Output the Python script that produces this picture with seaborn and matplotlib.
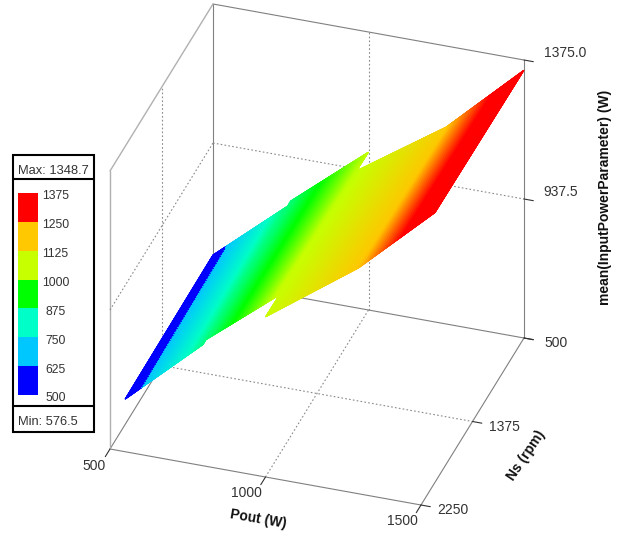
import numpy as np
import matplotlib
matplotlib.use('Agg')
import matplotlib.pyplot as plt
from matplotlib.colors import LinearSegmentedColormap, ListedColormap, Normalize
from matplotlib.patches import Rectangle
import seaborn as sns

# axis ranges and ticks
pout_ticks = [500, 1000, 1500]
ns_ticks = [2250, 1375, 500]
z_ticks = [500, 937.5, 1375]
z_tick_labels = ['500', '937.5', '1375.0']

# surface patches, values
pout_left = [500, 750, 1000, 1250]
pout_right = [750, 1000, 1250, 1500]
ns_near_left = [1995, 1940, 2250, 1995]
ns_near_right = [1991, 2057, 1995, 2012]
ns_far_left = [500, 500, 678, 500]
ns_far_right = [570, 500, 500, 500]
z_near_left = [580, 795, 1004, 1125]
z_near_right = [795, 1010, 1125, 1349]
z_far_left = [585, 799, 994, 1120]
z_far_right = [802, 997, 1120, 1343]

# legend
levels = [500, 625, 750, 875, 1000, 1125, 1250, 1375]
band_colors = ['#0000ff', '#00c8ff', '#00ffc8', '#00ff00', '#c8ff00', '#ffc800', '#ff0000']
z_max = 1348.7
z_min = 576.5

sns.set_theme(style='white')
plt.rcParams['font.family'] = ['Liberation Sans', 'DejaVu Sans']
text_color = '#333333'


def project(pout, ns, z):
    # parallel projection of the data box to picture pixels
    a = (np.asarray(pout, dtype=float) - 500) / 1000
    b = (2250 - np.asarray(ns, dtype=float)) / 1750
    c = (np.asarray(z, dtype=float) - 500) / 875
    return 110 + 311 * a + 103 * b, 449 + 56 * a - 167 * b - 278 * c


def line3d(start, end, **kw):
    x, y = project(*zip(start, end))
    ax.plot(x, y, **kw)


fig = plt.figure(figsize=(6.24, 5.34), dpi=100)
ax = fig.add_axes([0, 0, 1, 1])
ax.set_xlim(0, 624)
ax.set_ylim(534, 0)
ax.axis('off')

solid = dict(color='#808080', lw=0.8, zorder=1)
light = dict(color='#b0b0b0', lw=1.0, zorder=1)
dashed = dict(color='#8a8a8a', lw=0.8, ls=(0, (1.5, 2)), zorder=1)

# floor and back walls
line3d((500, 2250, 500), (1500, 2250, 500), **solid)
line3d((1500, 2250, 500), (1500, 500, 500), **solid)
line3d((500, 500, 500), (1500, 500, 500), **solid)
line3d((500, 2250, 500), (500, 500, 500), **solid)
line3d((500, 500, 500), (500, 500, 1375), **solid)
line3d((1500, 500, 500), (1500, 500, 1375), **solid)
line3d((500, 500, 1375), (1500, 500, 1375), **solid)
line3d((500, 2250, 500), (500, 2250, 1375), **light)
line3d((500, 2250, 1375), (500, 500, 1375), **light)

# middle grid lines
line3d((1000, 2250, 500), (1000, 500, 500), **dashed)
line3d((500, 1375, 500), (1500, 1375, 500), **dashed)
line3d((1000, 500, 500), (1000, 500, 1375), **dashed)
line3d((500, 500, 937.5), (1500, 500, 937.5), **dashed)
line3d((500, 1375, 500), (500, 1375, 1375), **dashed)
line3d((500, 2250, 937.5), (500, 500, 937.5), **dashed)

# ticks
for p in pout_ticks:
    line3d((p, 2250, 500), (p, 2330, 500), color='#333333', lw=0.8, zorder=1)
for n in ns_ticks:
    line3d((1500, n, 500), (1530, n, 500), color='#333333', lw=0.8, zorder=1)
for z in z_ticks:
    line3d((1500, 500, z), (1530, 500, z), color='#333333', lw=0.8, zorder=1)

# surface
nodes = [(0, band_colors[0]), (125 / 875, band_colors[0])]
for lev, col in zip(levels[1:-1], band_colors[1:]):
    nodes.append(((lev - 500) / 875, col))
nodes.append((1, band_colors[-1]))
surf_cmap = LinearSegmentedColormap.from_list('surf', nodes, N=2048)
norm = Normalize(500, 1375)

s, t = np.meshgrid(np.linspace(0, 1, 300), np.linspace(0, 1, 60))
for i in range(len(pout_left)):
    pout = pout_left[i] + (pout_right[i] - pout_left[i]) * s
    ns_near = ns_near_left[i] + (ns_near_right[i] - ns_near_left[i]) * s
    ns_far = ns_far_left[i] + (ns_far_right[i] - ns_far_left[i]) * s
    z_near = z_near_left[i] + (z_near_right[i] - z_near_left[i]) * s
    z_far = z_far_left[i] + (z_far_right[i] - z_far_left[i]) * s
    ns = ns_near + (ns_far - ns_near) * t
    z = z_near + (z_far - z_near) * t
    X, Y = project(pout, ns, z)
    ax.pcolormesh(X, Y, z, cmap=surf_cmap, norm=norm, shading='gouraud', zorder=2 + i)

# tick labels and axis titles
for lab, x, y in zip(['500', '1000', '1500'], [94, 246, 402], [466, 493, 521]):
    ax.text(x, y, lab, ha='center', va='center', fontsize=10, color=text_color)
for lab, x, y in zip(['2250', '1375', '500'], [453, 504, 556], [510, 427, 343]):
    ax.text(x, y, lab, ha='center', va='center', fontsize=10, color=text_color)
for lab, x, y in zip(z_tick_labels, [556, 561, 565], [343, 192, 53]):
    if lab != '500':
        ax.text(x, y, lab, ha='center', va='center', fontsize=10, color=text_color)
ax.text(258, 519, 'Pout (W)', ha='center', va='center', fontsize=10, fontweight='bold',
        rotation=-10, rotation_mode='anchor', color='#111111')
ax.text(526, 455, 'Ns (rpm)', ha='center', va='center', fontsize=10, fontweight='bold',
        rotation=56, rotation_mode='anchor', color='#111111')
ax.text(605, 197, 'mean(InputPowerParameter) (W)', ha='center', va='center', fontsize=10,
        fontweight='bold', rotation=90, color='#111111')

# legend frames
ax.add_patch(Rectangle((13, 155), 81, 277, fc='white', ec='black', lw=1.5, zorder=10))
ax.plot([13, 94], [179, 179], color='black', lw=1.5, zorder=11)
ax.plot([13, 94], [406, 406], color='black', lw=1.5, zorder=11)
ax.text(18, 171, f'Max: {z_max}', va='center', fontsize=9.3, color=text_color, zorder=11)
ax.text(18, 422, f'Min: {z_min}', va='center', fontsize=9.3, color=text_color, zorder=11)

# color bar of the legend
cax = fig.add_axes([18 / 624, 1 - 395 / 534, 20 / 624, 202 / 534], zorder=5)
bands = np.arange(len(band_colors))[::-1].reshape(-1, 1)
sns.heatmap(bands, ax=cax, cmap=ListedColormap(band_colors), cbar=False,
            xticklabels=False, yticklabels=False)
for i, lev in enumerate(levels[::-1]):
    cax.text(1.88, i + 0.12, str(lev), ha='center', va='center', fontsize=8.8,
             color=text_color, clip_on=False)

fig.savefig('out.png', dpi=100)
